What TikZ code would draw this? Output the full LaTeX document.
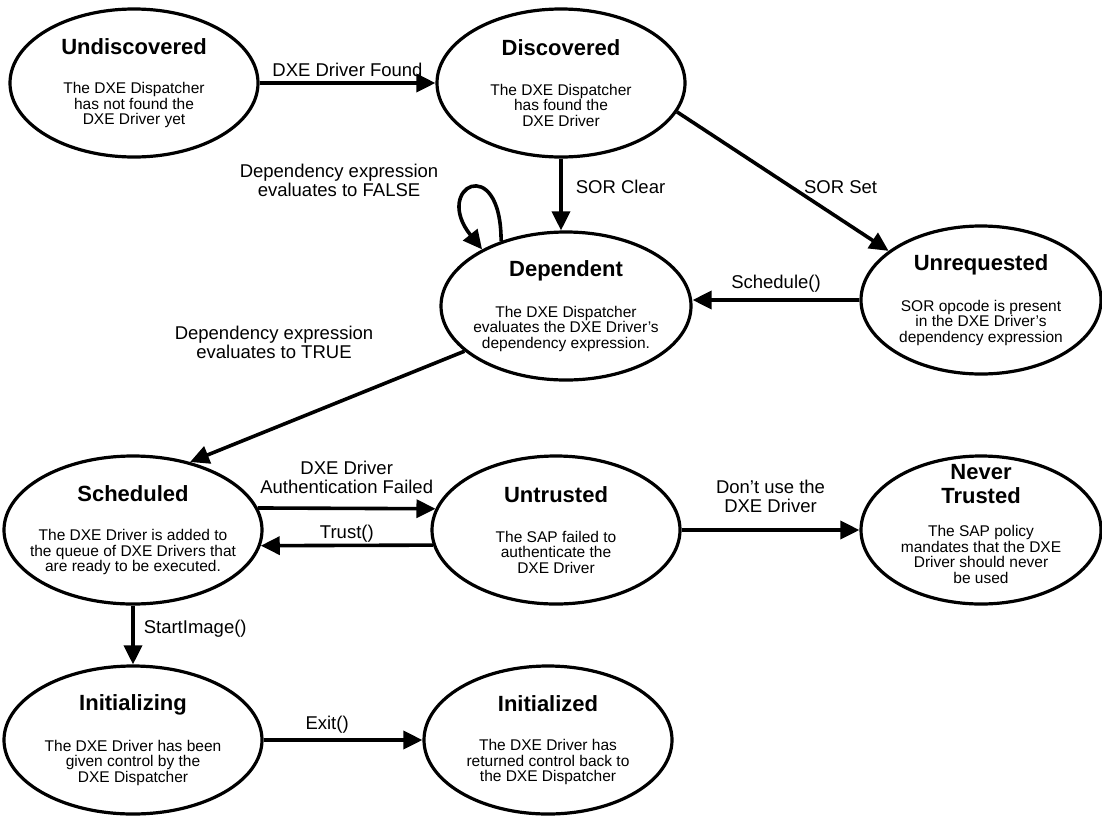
\documentclass[tikz,border=0pt]{standalone}
\usepackage{fontspec}
\setmainfont{Liberation Sans}
\usepackage{tikz}
\usetikzlibrary{arrows.meta,shapes.geometric,calc}

\newcommand{\titlefont}{\fontsize{22}{24}\selectfont\bfseries}
\newcommand{\descfont}{\fontsize{15.5}{15.5}\selectfont}
\newcommand{\edgefont}{\fontsize{18.5}{19}\selectfont}
\newcommand{\statetext}[2]{{\titlefont #1}\\[24pt]#2}

\begin{document}
\begin{tikzpicture}[x=1pt,y=-1pt,
    state/.style={ellipse,draw,line width=3.2pt,minimum width=248pt,minimum height=148pt,inner sep=0pt},
    txt/.style={font=\descfont,align=center,inner sep=0pt},
    trans/.style={-{Triangle[length=19pt,width=18pt]},line width=3.6pt},
    lbl/.style={font=\edgefont,align=center,inner sep=1pt}]
  \useasboundingbox (0,0) rectangle (1102,817);

  % draw the states
  \node[state,label={[txt]center:\statetext{Undiscovered}{The DXE Dispatcher\\has not found the\\DXE Driver yet}}] (undisc) at (134,83) {};
  \node[state,label={[txt]center:\statetext{Discovered}{The DXE Dispatcher\\has found the\\DXE Driver}}] (disc) at (561,83) {};
  \node[state,minimum width=250pt,label={[txt]center:\statetext{Dependent}{The DXE Dispatcher\\evaluates the DXE Driver's\\dependency expression.}}] (dep) at (566,306) {};
  \node[state,minimum width=240pt,label={[txt]center:\statetext{Unrequested}{SOR opcode is present\\in the DXE Driver's\\dependency expression}}] (unreq) at (981,300) {};
  \node[state,minimum width=258pt,label={[txt]center:\statetext{Scheduled}{The DXE Driver is added to\\the queue of DXE Drivers that\\are ready to be executed.}}] (sched) at (133,530) {};
  \node[state,label={[txt]center:\statetext{Untrusted}{The SAP failed to\\authenticate the\\DXE Driver}}] (untr) at (556,530) {};
  \node[state,minimum width=240pt,label={[txt,yshift=6pt]center:{{\titlefont Never}\\[6pt]{\titlefont Trusted}\\[18pt]The SAP policy\\mandates that the DXE\\Driver should never\\be used}}] (never) at (981,530) {};
  \node[state,minimum width=258pt,label={[txt]center:\statetext{Initializing}{The DXE Driver has been\\given control by the\\DXE Dispatcher}}] (init) at (133,740) {};
  \node[state,label={[txt]center:\statetext{Initialized}{The DXE Driver has\\returned control back to\\the DXE Dispatcher}}] (initd) at (548,740) {};

  % draw the transitions
  \draw[trans] (undisc) -- (disc) node[lbl,midway,above=4pt] {DXE Driver Found};
  \draw[trans] (disc) -- (disc |- dep.north) node[lbl,pos=0.4,right=12pt] {SOR Clear};
  \draw[trans] (disc.-14) -- (unreq.152) node[lbl,pos=0.54,right=10pt] {SOR Set};
  \draw[trans] (dep.135) .. controls +(0,-90) and +(-50,-62) .. (dep.146);
  \node[lbl] (falselbl) at (339,180) {Dependency expression\\evaluates to FALSE};
  \draw[trans] (unreq.west) -- (unreq.west -| dep.east) node[lbl,midway,above=5pt] {Schedule()};
  \draw[trans] (dep.204) -- (sched.50);
  \node[lbl] (truelbl) at (274,342) {Dependency expression\\evaluates to TRUE};
  \draw[trans] (sched.10) -- (untr.170) node[lbl,midway,above=12pt] {DXE Driver\\Authentication Failed};
  \draw[trans] (untr.187) -- (sched.-7) node[lbl,midway,above=0pt] {Trust()};
  \draw[trans] (untr) -- (never) node[lbl,midway,above=15pt] {Don't use the\\DXE Driver};
  \draw[trans] (sched) -- (init) node[lbl,pos=0.4,right=8pt] {StartImage()};
  \draw[trans] (init) -- (initd) node[lbl,pos=0.4,above=4pt] {Exit()};
\end{tikzpicture}
\end{document}
